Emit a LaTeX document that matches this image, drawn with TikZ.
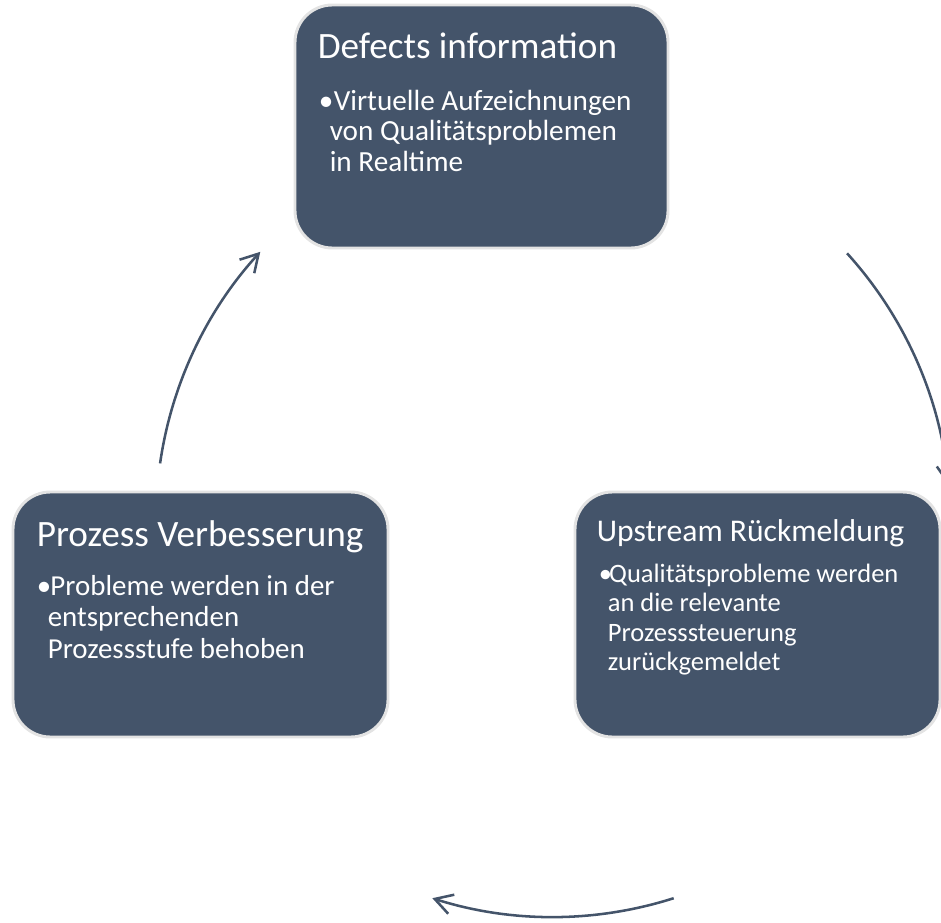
\documentclass[tikz,border=0pt]{standalone}
\usepackage{fontspec}
\setmainfont{Carlito}
\usetikzlibrary{arrows.meta}
\definecolor{boxblue}{HTML}{44546A}
\definecolor{boxrim}{HTML}{E3E3E3}

\tikzset{
  cyclebox/.style={draw=boxrim, line width=2.2pt, fill=boxblue, rounded corners=28pt, inner sep=0pt},
  boxtitle/.style={anchor=base west, text=white, inner sep=0pt},
  boxbody/.style={anchor=base west, text=white, inner sep=0pt, align=left},
  cyclearrow/.style={draw=boxblue, line width=1.9pt, -{Straight Barb[length=13pt,width=15pt]}}
}

\begin{document}
\begin{tikzpicture}[x=0.75pt,y=0.75pt]
	\useasboundingbox (0,0) rectangle (941,-923);
	\clip (0,0) rectangle (941,-923);
	
	\coordinate (hub) at (553,-520);
	
	% the three steps
	\node[cyclebox, minimum width=279.75pt, minimum height=182.25pt] (defects) at (481.5,-126.5) {};
	\node[cyclebox, minimum width=273.75pt, minimum height=183.75pt] (upstream) at (757.5,-614.5) {};
	\node[cyclebox, minimum width=281.25pt, minimum height=183.75pt] (prozess) at (200.5,-614.5) {};
	
	% base of a body node = baseline of its last line
	\node[boxtitle, font=\fontsize{27.9}{34}\selectfont] (defectstitle) at ([shift={(24,-55)}]defects.north west) {Defects information};
	\node[boxbody, font=\fontsize{21.9}{22.9}\selectfont] (defectsdot) at ([shift={(25,-107)}]defects.north west) {•};
	\node[boxbody, font=\fontsize{21.9}{22.9}\selectfont] (defectstext) at ([shift={(36,-168)}]defects.north west) {\hspace*{3pt}Virtuelle Aufzeichnungen\\von Qualitätsproblemen\\in Realtime};
	
	\node[boxtitle, font=\fontsize{23.7}{29}\selectfont] (upstreamtitle) at ([shift={(23,-51)}]upstream.north west) {Upstream Rückmeldung};
	\node[boxbody, font=\fontsize{19.9}{22}\selectfont] (upstreamdot) at ([shift={(25,-92)}]upstream.north west) {•};
	\node[boxbody, font=\fontsize{19.9}{22}\selectfont] (upstreamtext) at ([shift={(34,-180)}]upstream.north west) {\hspace*{1pt}Qualitätsprobleme werden\\an die relevante\\Prozesssteuerung\\zurückgemeldet};
	
	\node[boxtitle, font=\fontsize{27.9}{34}\selectfont] (prozesstitle) at ([shift={(25,-56)}]prozess.north west) {Prozess Verbesserung};
	\node[boxbody, font=\fontsize{21.7}{23.8}\selectfont] (prozessdot) at ([shift={(25,-105)}]prozess.north west) {•};
	\node[boxbody, font=\fontsize{21.7}{23.8}\selectfont] (prozesstext) at ([shift={(36,-168)}]prozess.north west) {\hspace*{2pt}Probleme werden in der\\entsprechenden\\Prozessstufe behoben};
	
	% arcs of the cycle
	\coordinate (rightstart) at ([shift={(42.2:397)}]hub);
	\coordinate (bottomstart) at ([shift={(-72.3:397)}]hub);
	\coordinate (leftstart) at ([shift={(171.8:397)}]hub);
	\draw[cyclearrow] (rightstart) arc[start angle=42.2, end angle=5, radius=397];
	\draw[cyclearrow] (bottomstart) arc[start angle=-72.3, end angle=-107.7, radius=397];
	\draw[cyclearrow] (leftstart) arc[start angle=171.8, end angle=137.5, radius=397];
\end{tikzpicture}
\end{document}
